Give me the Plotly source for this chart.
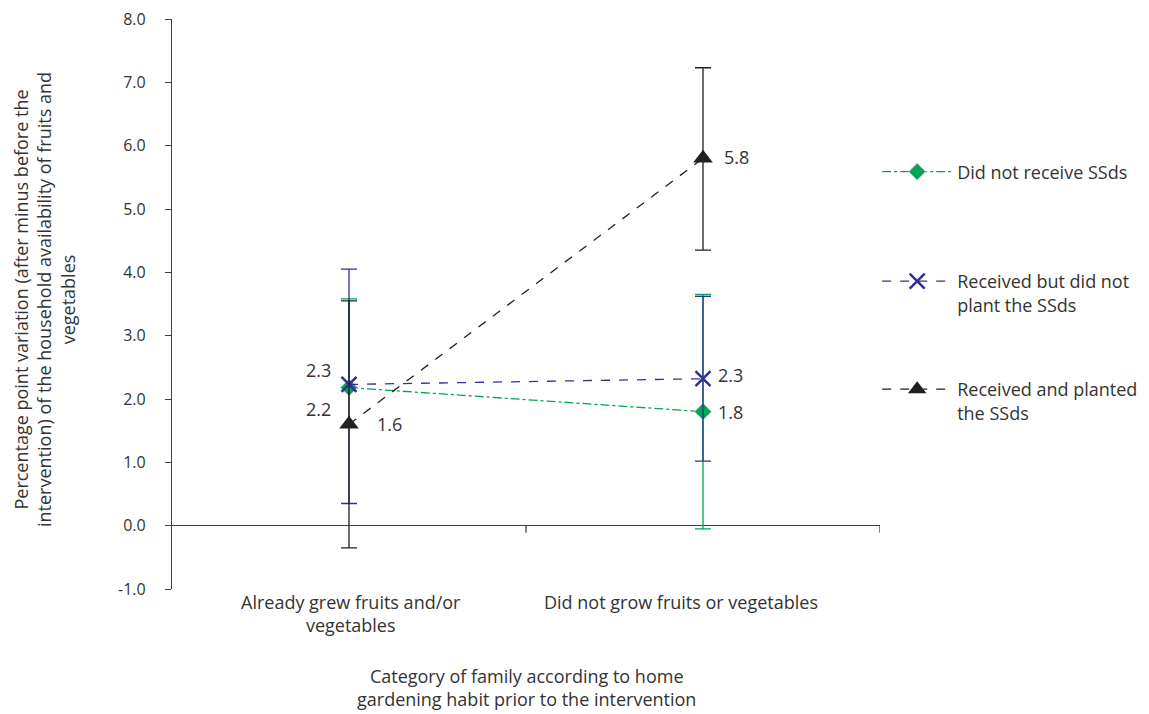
import plotly.graph_objects as go

categories = ["Already grew fruits and/or<br>vegetables", "Did not grow fruits or vegetables"]
x_pos = [0, 1]

series_names = ["Did not receive SSds", "Received but did not<br>plant the SSds", "Received and planted<br>the SSds"]

green_vals = [2.18, 1.80]
green_err_plus = [1.40, 1.85]
green_err_minus = [0.0, 1.85]
green_labels = ["2.2", "1.8"]

blue_vals = [2.23, 2.32]
blue_err_plus = [1.82, 1.30]
blue_err_minus = [1.88, 1.30]
blue_labels = ["2.3", "2.3"]

black_vals = [1.60, 5.80]
black_err_plus = [1.95, 1.43]
black_err_minus = [1.95, 1.45]
black_labels = ["1.6", "5.8"]

y_ticks = [-1, 0, 1, 2, 3, 4, 5, 6, 7, 8]
y_tick_text = [f"{v:.1f}" for v in y_ticks]

GREEN = "#00a651"
BLUE = "#2e3192"
BLACK = "#231f20"
TEXT = "#333333"
AXIS = "#404040"
FONT = "Open Sans"

# page body has an 8px default margin; figure is sized to compensate
W, H = 1141, 706
L, T, R, B = 164, 11, 269, 125
plot_h = H - T - B

fig = go.Figure()

fig.add_trace(go.Scatter(
    x=x_pos, y=green_vals, name=series_names[0], mode="lines+markers",
    line=dict(color=GREEN, width=1.3, dash="dashdot"),
    marker=dict(symbol="diamond", size=13, color=GREEN, line=dict(color="#c8c8c8", width=1)),
    error_y=dict(type="data", symmetric=False, array=green_err_plus, arrayminus=green_err_minus,
                 color=GREEN, thickness=1.3, width=8),
    legend="legend",
))
fig.add_trace(go.Scatter(
    x=x_pos, y=blue_vals, name=series_names[1], mode="lines+markers",
    line=dict(color=BLUE, width=1.3, dash="dash"),
    marker=dict(symbol="x-thin", size=15, color=BLUE, line=dict(color=BLUE, width=2.5)),
    error_y=dict(type="data", symmetric=False, array=blue_err_plus, arrayminus=blue_err_minus,
                 color=BLUE, thickness=1.3, width=8),
    legend="legend2",
))
fig.add_trace(go.Scatter(
    x=x_pos, y=black_vals, name=series_names[2], mode="lines+markers",
    line=dict(color=BLACK, width=1.3, dash="dash"),
    marker=dict(symbol="triangle-up", size=17, color=BLACK),
    error_y=dict(type="data", symmetric=False, array=black_err_plus, arrayminus=black_err_minus,
                 color=BLACK, thickness=1.3, width=8),
    legend="legend3",
))

annotations = []
label_font = dict(family=FONT, size=18, color=TEXT)
shifts = {
    "green": [(-31, -21), (27, 0)],
    "blue": [(-31, 14), (27, 4)],
    "black": [(40, 0), (33, 1)],
}
for key, vals, labels in [("green", green_vals, green_labels), ("blue", blue_vals, blue_labels), ("black", black_vals, black_labels)]:
    for i, (v, t) in enumerate(zip(vals, labels)):
        dx, dy = shifts[key][i]
        annotations.append(dict(x=x_pos[i], y=v, xref="x", yref="y", text=t, showarrow=False,
                                xshift=dx, yshift=dy, font=label_font))

cat_shift = [2, -22]
for i, c in enumerate(categories):
    annotations.append(dict(x=x_pos[i], y=0, xref="x", yref="paper", text=c, showarrow=False,
                            xshift=cat_shift[i], yanchor="top", yshift=1, font=label_font))

annotations.append(dict(x=0.5, y=0, xref="paper", yref="paper", yanchor="top", yshift=-73,
                        text="Category of family according to home<br>gardening habit prior to the intervention",
                        showarrow=False, font=label_font))
annotations.append(dict(x=0, y=(581 - 300 + 8) / plot_h, xref="paper", yref="paper", xanchor="center", xshift=-128,
                        borderpad=0,
                        text="Percentage point variation (after minus before the<br>intervention) of the household availability of fruits and<br>vegetables",
                        textangle=-90, showarrow=False, font=label_font))

shapes = []
for xv in [0.5, 1.5]:
    shapes.append(dict(type="line", xref="x", x0=xv, x1=xv, yref="y", ysizemode="pixel",
                       yanchor=0, y0=0, y1=-7, line=dict(color=AXIS, width=1.3)))

legend_common = dict(xref="paper", yref="paper", x=0.996, xanchor="left", bgcolor="rgba(0,0,0,0)",
                     font=dict(family=FONT, size=18, color=TEXT), itemwidth=70, valign="top")

def ly(px):
    # px is page pixel row of the legend item centre
    return (H - B - (px - 8)) / plot_h

fig.update_layout(
    width=W, height=H,
    margin=dict(l=L, r=R, t=T, b=B, autoexpand=False),
    paper_bgcolor="white", plot_bgcolor="white",
    font=dict(family=FONT, size=16, color=TEXT),
    showlegend=True,
    legend=dict(**legend_common, y=ly(172), yanchor="middle"),
    legend2=dict(**legend_common, y=ly(293), yanchor="middle"),
    legend3=dict(**legend_common, y=ly(401), yanchor="middle"),
    xaxis=dict(range=[-0.5, 1.5], showgrid=False, zeroline=False, showline=False,
               showticklabels=False, ticks="", automargin=False),
    yaxis=dict(range=[-1, 8], tickvals=y_ticks, ticktext=y_tick_text, showgrid=False,
               zeroline=True, zerolinecolor=AXIS, zerolinewidth=1.3,
               showline=True, linecolor=AXIS, linewidth=1.3,
               ticks="outside", ticklen=6, tickcolor=AXIS, tickwidth=1.3,
               ticklabeloverflow="allow", automargin=False,
               ticklabelstandoff=16, tickfont=dict(family=FONT, size=16, color=TEXT)),
    annotations=annotations,
    shapes=shapes,
)

fig.write_html("out.html")
